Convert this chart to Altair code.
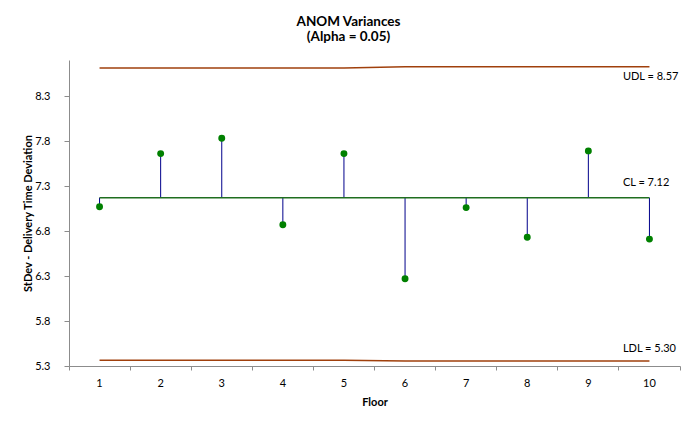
import altair as alt
import pandas as pd

# ---- data ----
floors = [1, 2, 3, 4, 5, 6, 7, 8, 9, 10]
stdevs = [7.02, 7.61, 7.78, 6.82, 7.61, 6.22, 7.01, 6.68, 7.64, 6.66]
center_line = [7.12, 7.12, 7.12, 7.12, 7.12, 7.12, 7.12, 7.12, 7.12, 7.12]
udl_values = [8.56, 8.56, 8.56, 8.56, 8.56, 8.575, 8.575, 8.575, 8.575, 8.575]
ldl_values = [5.313, 5.313, 5.313, 5.313, 5.313, 5.305, 5.305, 5.305, 5.305, 5.305]

limit_texts = ["UDL = 8.57", "CL = 7.12", "LDL = 5.30"]
limit_levels = [8.57, 7.12, 5.30]
limit_label_floor = 10

y_ticks = [5.25, 5.75, 6.25, 6.75, 7.25, 7.75, 8.25]
y_domain = [5.25, 8.65]

title_lines = ["ANOM Variances", "(Alpha = 0.05)"]
x_title = "Floor"
y_title = "StDev - Delivery Time Deviation"

FONT = "Lato"
NAVY = "#00008B"
GREEN = "#008000"
CL_GREEN = "#1F6E1F"
BROWN = "#A0400C"
AXIS_GRAY = "#8C8C8C"

df = pd.DataFrame({
    "floor": floors,
    "stdev": stdevs,
    "cl": center_line,
    "udl": udl_values,
    "ldl": ldl_values,
})

x_enc = alt.X(
    "floor:O",
    scale=alt.Scale(type="band", paddingInner=0, paddingOuter=0),
    axis=alt.Axis(
        title=x_title,
        labelAngle=0,
        bandPosition=1,
        tickExtra=True,
        tickSize=4,
        tickColor=AXIS_GRAY,
        domainColor=AXIS_GRAY,
        labelPadding=7,
        titlePadding=8,
        grid=False,
    ),
)
y_scale = alt.Scale(domain=y_domain, nice=False, zero=False)
y_enc = alt.Y(
    "stdev:Q",
    scale=y_scale,
    axis=alt.Axis(
        title=y_title,
        values=y_ticks,
        format=".1f",
        tickSize=5,
        tickColor=AXIS_GRAY,
        domainColor=AXIS_GRAY,
        labelPadding=14,
        titlePadding=1,
        grid=False,
    ),
)

base = alt.Chart(df)

stems = base.mark_rule(color=NAVY, strokeWidth=1).encode(
    x=x_enc, y=y_enc, y2="cl:Q"
)
cl_line = base.mark_line(color=CL_GREEN, strokeWidth=1.5).encode(
    x="floor:O", y=alt.Y("cl:Q", scale=y_scale)
)
udl_line = base.mark_line(color=BROWN, strokeWidth=1.5).encode(
    x="floor:O", y=alt.Y("udl:Q", scale=y_scale)
)
ldl_line = base.mark_line(color=BROWN, strokeWidth=1.5).encode(
    x="floor:O", y=alt.Y("ldl:Q", scale=y_scale)
)
points = base.mark_circle(color=GREEN, opacity=1, size=48).encode(
    x="floor:O", y=alt.Y("stdev:Q", scale=y_scale)
)

label_offsets = [10, -15, -13]
label_layers = []
for txt, lvl, off in zip(limit_texts, limit_levels, label_offsets):
    ldf = pd.DataFrame({"floor": [limit_label_floor], "level": [lvl], "label": [txt]})
    label_layers.append(
        alt.Chart(ldf).mark_text(
            align="left", baseline="middle", dx=4, dy=off,
            font=FONT, fontSize=11, color="#000000",
        ).encode(
            x=alt.X("floor:O", bandPosition=0),
            y=alt.Y("level:Q", scale=y_scale),
            text="label:N",
        )
    )

chart = alt.layer(
    stems, cl_line, udl_line, ldl_line, points, *label_layers
).properties(
    width=611,
    height=306,
    padding={"left": 61, "top": 52, "right": 7, "bottom": 57},
    autosize=alt.AutoSizeParams(type="none"),
    title=alt.TitleParams(
        text=title_lines,
        font=FONT,
        fontSize=13.5,
        fontWeight="bold",
        lineHeight=15,
        anchor="middle",
        frame="group",
        dx=-26,
        offset=17,
        color="#000000",
    ),
).configure_view(
    stroke=None
).configure_axis(
    labelFont=FONT,
    labelFontSize=11,
    labelColor="#000000",
    titleFont=FONT,
    titleFontSize=11,
    titleFontWeight="bold",
    titleColor="#000000",
)

chart.save("out.html", embed_options={"renderer": "svg", "actions": False})
